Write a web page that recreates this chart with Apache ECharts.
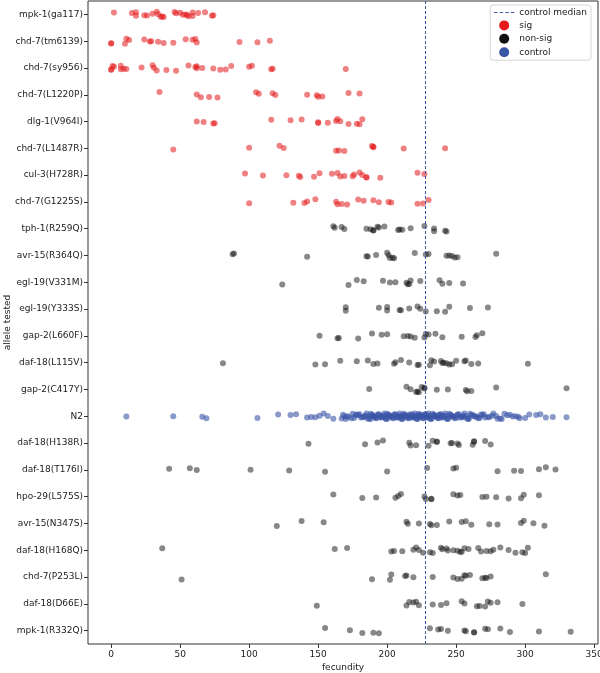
<!DOCTYPE html>
<html>
<head>
<meta charset="utf-8">
<script src="https://cdn.jsdelivr.net/npm/echarts@6/dist/echarts.min.js"></script>
<style>
  html, body { margin: 0; padding: 0; background: #fff; }
  #chart { width: 600px; height: 673px; }
</style>
</head>
<body>
<div id="chart"></div>
<script>
// alleles, top to bottom
const alleles = ['mpk-1(ga117)', 'chd-7(tm6139)', 'chd-7(sy956)', 'chd-7(L1220P)', 'dlg-1(V964I)',
  'chd-7(L1487R)', 'cul-3(H728R)', 'chd-7(G1225S)', 'tph-1(R259Q)', 'avr-15(R364Q)', 'egl-19(V331M)',
  'egl-19(Y333S)', 'gap-2(L660F)', 'daf-18(L115V)', 'gap-2(C417Y)', 'N2', 'daf-18(H138R)',
  'daf-18(T176I)', 'hpo-29(L575S)', 'avr-15(N347S)', 'daf-18(H168Q)', 'chd-7(P253L)',
  'daf-18(D66E)', 'mpk-1(R332Q)'];
const status = ['sig', 'sig', 'sig', 'sig', 'sig', 'sig', 'sig', 'sig',
  'non-sig', 'non-sig', 'non-sig', 'non-sig', 'non-sig', 'non-sig', 'non-sig', 'control',
  'non-sig', 'non-sig', 'non-sig', 'non-sig', 'non-sig', 'non-sig', 'non-sig', 'non-sig'];

const controlMedian = 227.5;

// fecundity per worm
const mpk1_ga117 = [2, 15, 18, 18, 24, 26, 30, 33, 34, 36, 37, 38, 46, 47, 50, 52, 54, 55, 56, 59, 59, 63, 68, 73, 74];
const chd7_tm6139 = [0, 0, 10, 11, 13, 24, 28, 29, 34, 38, 45, 54, 59, 61, 62, 93, 106, 115];
const chd7_sy956 = [0, 0, 1, 2, 7, 7, 9, 11, 22, 30, 31, 33, 40, 47, 56, 61, 62, 62, 66, 74, 79, 83, 87, 100, 102, 116, 117, 170];
const chd7_L1220P = [35, 62, 65, 71, 77, 105, 107, 117, 119, 142, 149, 150, 153, 172, 180];
const dlg1_V964I = [62, 67, 74, 75, 116, 130, 138, 150, 150, 157, 163, 164, 166, 172, 178, 180, 182];
const chd7_L1487R = [45, 100, 122, 125, 163, 165, 169, 189, 190, 190, 212, 242];
const cul3_H728R = [97, 110, 127, 136, 137, 147, 151, 160, 164, 166, 169, 175, 176, 180, 182, 185, 185, 195, 222, 227];
const chd7_G1225S = [100, 132, 140, 142, 148, 163, 164, 167, 171, 179, 183, 190, 194, 201, 203, 222, 226, 230];
const tph1_R259Q = [161, 162, 167, 169, 185, 188, 190, 190, 193, 194, 198, 208, 209, 211, 217, 227, 234, 234, 242, 243];
const avr15_R364Q = [88, 89, 142, 185, 186, 192, 200, 201, 202, 204, 205, 220, 228, 230, 243, 245, 247, 249, 251, 279];
const egl19_V331M = [124, 172, 178, 183, 197, 202, 206, 214, 215, 216, 217, 224, 238, 240, 245, 255];
const egl19_Y333S = [170, 170, 194, 200, 200, 209, 210, 216, 222, 224, 228, 236, 242, 245, 260, 273];
const gap2_L660F = [151, 164, 165, 179, 189, 196, 200, 212, 215, 217, 220, 227, 228, 230, 235, 240, 254, 264, 265, 269];
const daf18_L115V = [81, 148, 155, 166, 178, 186, 190, 193, 205, 206, 210, 216, 222, 223, 231, 232, 234, 239, 240,
  241, 243, 245, 247, 250, 256, 257, 261, 266, 302];
const gap2_C417Y = [187, 214, 217, 221, 222, 223, 225, 227, 227, 236, 244, 257, 258, 261, 279, 330];
const N2 = [11, 45, 66, 69, 106, 121, 130, 134, 142, 145, 148, 151, 154, 157, 161, 167, 170, 175, 177,
  168, 169, 171, 172, 174, 176, 178, 179,
  180, 181, 182, 183, 184, 185, 185, 186, 187, 188, 188, 189, 189,
  190, 190, 191, 192, 192, 193, 194, 194, 195, 196, 196, 197, 198, 198, 199, 199,
  200, 200, 201, 201, 202, 203, 203, 204, 205, 205, 206, 206, 207, 208, 208, 209, 209,
  210, 210, 211, 211, 212, 212, 213, 214, 214, 215, 215, 216, 216, 217, 218, 218, 219, 219,
  220, 220, 221, 221, 222, 222, 223, 223, 224, 224, 225, 225, 226, 226, 227, 227, 228, 228, 229, 229,
  230, 230, 231, 231, 232, 232, 233, 234, 234, 235, 235, 236, 237, 237, 238, 238, 239, 239,
  240, 240, 241, 242, 242, 243, 244, 244, 245, 246, 246, 247, 248, 248, 249,
  250, 251, 251, 252, 253, 254, 255, 255, 256, 257, 258, 259, 259,
  260, 261, 262, 263, 264, 265, 266, 267, 268, 269,
  270, 271, 273, 274, 276, 277, 279, 280, 282, 283, 285, 287, 289, 291, 293, 295, 296,
  300, 303, 308, 311, 315, 320, 330];
const daf18_H138R = [143, 184, 193, 197, 216, 217, 221, 230, 233, 236, 236, 246, 247, 251, 252, 262, 263, 263, 271, 275];
const daf18_T176I = [42, 57, 62, 101, 129, 155, 200, 229, 248, 250, 280, 292, 297, 310, 315, 322];
const hpo29_L575S = [161, 182, 192, 206, 208, 210, 227, 228, 232, 232, 248, 251, 253, 269, 272, 279, 288, 297, 299, 310];
const avr15_N347S = [120, 138, 154, 214, 215, 223, 231, 232, 236, 245, 254, 257, 261, 274, 280, 297, 299, 306, 314];
const daf18_H168Q = [37, 162, 171, 203, 205, 211, 219, 221, 223, 226, 231, 233, 239, 240, 243, 244, 248, 251, 253,
  254, 256, 259, 266, 268, 272, 275, 277, 282, 288, 293, 298, 300, 302];
const chd7_P253L = [51, 189, 202, 203, 213, 214, 219, 233, 248, 251, 254, 256, 257, 260, 269, 271, 272, 275, 315];
const daf18_D66E = [149, 214, 216, 219, 221, 223, 233, 239, 243, 254, 256, 265, 267, 271, 273, 275, 280, 298];
const mpk1_R332Q = [155, 173, 182, 190, 194, 231, 237, 239, 244, 256, 257, 263, 263, 271, 273, 282, 289, 310, 333];

const alleleValues = [mpk1_ga117, chd7_tm6139, chd7_sy956, chd7_L1220P, dlg1_V964I, chd7_L1487R,
  cul3_H728R, chd7_G1225S, tph1_R259Q, avr15_R364Q, egl19_V331M, egl19_Y333S, gap2_L660F,
  daf18_L115V, gap2_C417Y, N2, daf18_H138R, daf18_T176I, hpo29_L575S, avr15_N347S, daf18_H168Q,
  chd7_P253L, daf18_D66E, mpk1_R332Q];

const xTicks = [0, 50, 100, 150, 200, 250, 300, 350];

// fixed strip offsets so points do not sit on one line
const JIT = [-0.07, 0.05, -0.02, 0.09, -0.09, 0.01, 0.07, -0.05, 0.03, -0.1, 0.08, -0.04, 0.0, 0.06, -0.08, 0.04, -0.01, 0.1, -0.06, 0.02];

function stripData(kind) {
  const out = [];
  alleleValues.forEach(function (vals, i) {
    if (status[i] !== kind) return;
    vals.forEach(function (v, j) {
      out.push([v, i + JIT[(j * 7 + i * 3) % JIT.length]]);
    });
  });
  return out;
}

const colors = { 'sig': '#e41a1c', 'non-sig': '#111111', 'control': '#3a55a6' };
const txt = { fontFamily: 'DejaVu Sans', color: '#222', fontSize: 9 };

let chart = echarts.init(document.getElementById('chart'), null, { renderer: 'canvas' });
chart.setOption({
  animation: false,
  backgroundColor: '#fff',
  textStyle: { fontFamily: 'DejaVu Sans' },
  grid: {
    left: 88, right: 2, top: 1, bottom: 29,
    outerBoundsMode: 'none', containLabel: false,
    show: true, borderColor: '#333', borderWidth: 1
  },
  legend: {
    orient: 'vertical',
    right: 9,
    top: 5,
    padding: [3, 4, 3, 4],
    itemGap: 3.4,
    itemWidth: 20,
    itemHeight: 10,
    borderColor: '#d5d5d5',
    borderWidth: 1,
    borderRadius: 3,
    textStyle: { fontFamily: 'DejaVu Sans', fontSize: 9, color: '#222' },
    data: [
      { name: 'control median', icon: 'path://M0,0h3v1h-3z M5,0h3v1h-3z M10,0h3v1h-3z M15,0h3v1h-3z', itemStyle: { color: '#3a55a6', opacity: 1 } },
      { name: 'sig', icon: 'circle', itemStyle: { opacity: 1 } },
      { name: 'non-sig', icon: 'circle', itemStyle: { opacity: 1 } },
      { name: 'control', icon: 'circle', itemStyle: { opacity: 1 } }
    ]
  },
  xAxis: {
    type: 'value',
    min: -16.8,
    max: 352.8,
    name: 'fecundity',
    nameLocation: 'middle',
    nameGap: 19,
    nameMoveOverlap: false,
    nameTextStyle: txt,
    axisLine: { show: false, onZero: false },
    axisTick: { show: true, length: 4, customValues: xTicks, lineStyle: { color: '#333' } },
    axisLabel: Object.assign({ margin: 6, customValues: xTicks }, txt),
    splitLine: { show: false }
  },
  yAxis: [
    {
      type: 'category',
      data: alleles,
      inverse: true,
      name: 'allele tested',
      nameLocation: 'middle',
      nameRotate: 90,
      nameGap: 76,
      nameMoveOverlap: false,
      nameTextStyle: txt,
      axisLine: { show: false, onZero: false },
      axisTick: { show: true, length: 4, alignWithLabel: true, lineStyle: { color: '#333' } },
      axisLabel: Object.assign({ margin: 5, interval: 0 }, txt),
      splitLine: { show: false }
    },
    {
      type: 'value',
      min: -0.5,
      max: 23.5,
      inverse: true,
      show: false
    }
  ],
  series: [
    {
      name: 'control median',
      type: 'line',
      yAxisIndex: 1,
      data: [],
      symbol: 'none',
      lineStyle: { color: '#3a55a6', type: 'dashed', width: 1 },
      itemStyle: { color: '#3a55a6' },
      markLine: {
        silent: true,
        symbol: 'none',
        label: { show: false },
        lineStyle: { color: '#3a55a6', type: [3, 2], width: 1 },
        data: [{ xAxis: controlMedian }]
      }
    },
    {
      name: 'sig', type: 'scatter', yAxisIndex: 1, symbolSize: 6,
      itemStyle: { color: colors['sig'], opacity: 0.55 },
      data: stripData('sig')
    },
    {
      name: 'non-sig', type: 'scatter', yAxisIndex: 1, symbolSize: 6,
      itemStyle: { color: colors['non-sig'], opacity: 0.5 },
      data: stripData('non-sig')
    },
    {
      name: 'control', type: 'scatter', yAxisIndex: 1, symbolSize: 6,
      itemStyle: { color: colors['control'], opacity: 0.6 },
      data: stripData('control')
    }
  ]
});
</script>
</body>
</html>
